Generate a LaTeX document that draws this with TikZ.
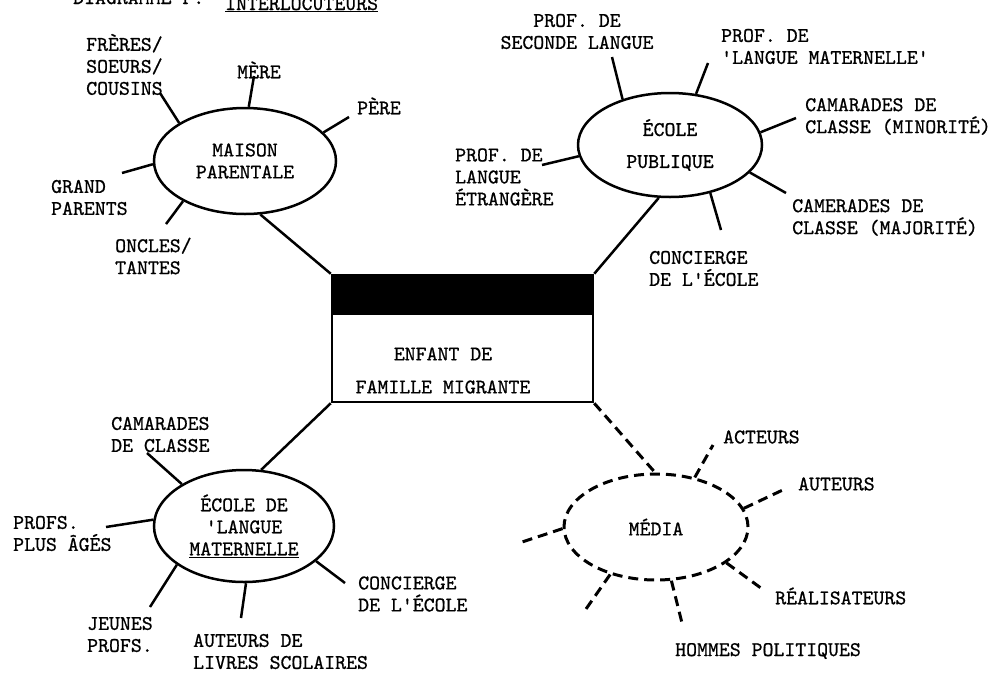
\documentclass[tikz,border=0pt]{standalone}
\usepackage{fontspec}
\newfontfamily\typefont[FakeBold=0.8]{lmmono10-regular.otf}
\usetikzlibrary{shapes.geometric}

\begin{document}
\begin{tikzpicture}[x=1pt, y=-1pt,
    font=\typefont\fontsize{20.8}{22}\selectfont,
    lbl/.style={anchor=west, inner sep=0pt, align=left},
    bubble/.style={ellipse, draw, line width=2.5pt, inner sep=0pt, align=center},
    spoke/.style={line width=2.5pt},
    dspoke/.style={line width=3pt, dash pattern=on 10pt off 6pt}]
    \useasboundingbox (0,0) rectangle (990,675);

    % titre (coupe en haut)
    \node[anchor=base west, inner sep=0pt] (titre) at (73,4) {DIAGRAMME F:};
    \node[anchor=base west, inner sep=0pt] (titre-b) at (225,10) {\underline{INTERLOCUTEURS}};

    % enfant au centre
    \node[draw, line width=2.5pt, minimum width=261pt, minimum height=127pt, inner sep=0pt,
        path picture={\fill (path picture bounding box.north west) rectangle
            ([yshift=-40pt]path picture bounding box.north east);}] (enfant) at (462.5,338.5) {};
    \node[align=center, inner sep=0pt] (enfant-t) at (443,370.5) {ENFANT DE\\[11pt]FAMILLE MIGRANTE};

    % les quatre bulles
    \node[bubble, minimum width=182pt, minimum height=106pt] (maison) at (245,161) {MAISON\\PARENTALE};
    \node[bubble, minimum width=184pt, minimum height=104pt] (publique) at (670,145) {ÉCOLE\\[10pt]PUBLIQUE};
    \node[bubble, minimum width=180pt, minimum height=112pt] (maternelle) at (244,526) {ÉCOLE DE\\'LANGUE\\\underline{MATERNELLE}};
    \node[bubble, dash pattern=on 10pt off 6pt, line width=3pt, minimum width=184pt, minimum height=106pt] (media) at (656,527) {MÉDIA};

    \draw[spoke] (maison.286) -- (enfant.north west);
    \draw[spoke] (publique.258) -- (enfant.north east);
    \draw[spoke] (maternelle.73) -- (enfant.south west);
    \draw[dspoke] (enfant.south east) -- (media.91);

    % maison parentale
    \coordinate (fr) at (160,93);
    \coordinate (me) at (254,76);
    \coordinate (pe) at (349,117);
    \coordinate (gp) at (122,173);
    \coordinate (on) at (166,224);
    \foreach \a/\p in {150/fr, 86/me, 20/pe, 182/gp, 213/on}
        \draw[spoke] (maison.\a) -- (\p);
    \node[lbl] (fr-t) at (86,64.5) {FRÈRES/\\SOEURS/\\COUSINS};
    \node[lbl] (me-t) at (237,70) {MÈRE};
    \node[lbl] (pe-t) at (357,106) {PÈRE};
    \node[lbl] (gp-t) at (51,197.5) {GRAND\\PARENTS};
    \node[lbl] (on-t) at (115,256) {ONCLES/\\TANTES};

    % ecole publique
    \coordinate (sl) at (612,57);
    \coordinate (lm) at (708,63);
    \coordinate (mi) at (796,118);
    \coordinate (ma) at (786,193);
    \coordinate (co) at (721,230);
    \coordinate (et) at (542,165);
    \foreach \a/\p in {136/sl, 63/lm, 8/mi, 341/ma, 310/co, 187/et}
        \draw[spoke] (publique.\a) -- (\p);
    \node[align=center, inner sep=0pt] (sl-t) at (577,31.5) {PROF. DE\\SECONDE LANGUE};
    \node[lbl] (lm-t) at (721,46.5) {PROF. DE\\'LANGUE MATERNELLE'};
    \node[lbl] (mi-t) at (805,116.5) {CAMARADES DE\\CLASSE (MINORITÉ)};
    \node[lbl] (ma-t) at (792,217.5) {CAMERADES DE\\CLASSE (MAJORITÉ)};
    \node[lbl] (co-t) at (649,268.5) {CONCIERGE\\DE L'ÉCOLE};
    \node[lbl] (et-t) at (455,177) {PROF. DE\\LANGUE\\ÉTRANGÈRE};

    % ecole de langue maternelle
    \coordinate (ca) at (147,453);
    \coordinate (pa) at (106,527);
    \coordinate (jp) at (150,607);
    \coordinate (al) at (241,618);
    \coordinate (cl) at (345,583);
    \foreach \a/\p in {146/ca, 176/pa, 210/jp, 272/al, 334/cl}
        \draw[spoke] (maternelle.\a) -- (\p);
    \node[lbl] (ca-t) at (111,434.5) {CAMARADES\\DE CLASSE};
    \node[lbl] (pa-t) at (13,533.5) {PROFS.\\PLUS ÂGÉS};
    \node[lbl] (jp-t) at (87,634.5) {JEUNES\\PROFS.};
    \node[lbl] (al-t) at (193,651.5) {AUTEURS DE\\LIVRES SCOLAIRES};
    \node[lbl] (cl-t) at (358,594) {CONCIERGE\\DE L'ÉCOLE};

    % media
    \coordinate (ac) at (713,445);
    \coordinate (au) at (787,488);
    \coordinate (re) at (765,591);
    \coordinate (hp) at (683,627);
    \coordinate (ll) at (586,609);
    \coordinate (lf) at (519,543);
    \foreach \a/\p in {52/ac, 12/au, 333/re, 286/hp, 226/ll, 181/lf}
        \draw[dspoke] (media.\a) -- (\p);
    \node[lbl] (ac-t) at (723,437) {ACTEURS};
    \node[lbl] (au-t) at (798,484) {AUTEURS};
    \node[lbl] (re-t) at (775,596) {RÉALISATEURS};
    \node[lbl] (hp-t) at (675,651) {HOMMES POLITIQUES};
\end{tikzpicture}
\end{document}
